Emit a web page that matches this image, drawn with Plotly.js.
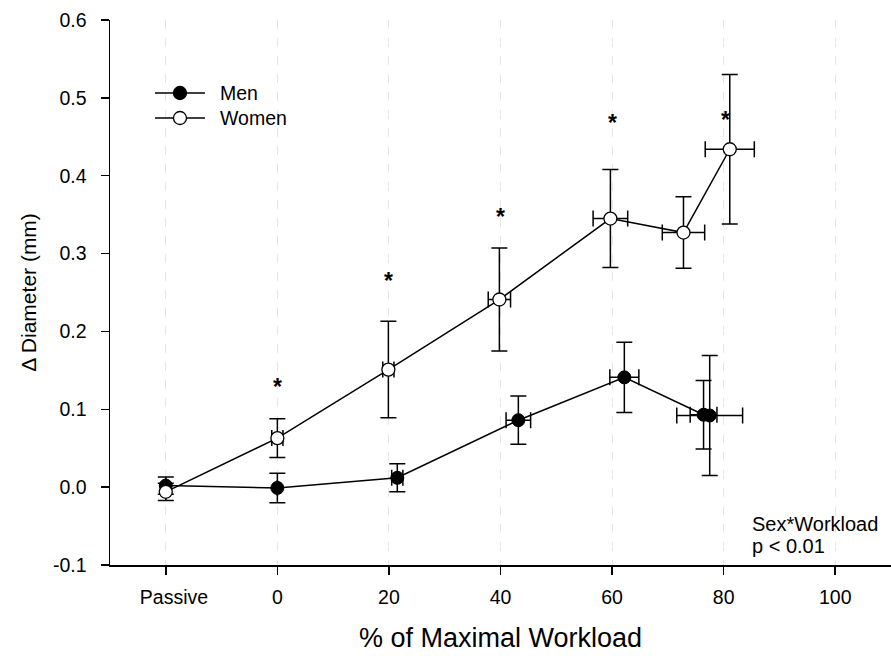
<!DOCTYPE html>
<html>
<head>
<meta charset="utf-8">
<script src="https://cdn.plot.ly/plotly-3.0.1.min.js"></script>
<style>
  html, body { margin: 0; padding: 0; background: #fff; }
  #chart { width: 891px; height: 656px; }
</style>
</head>
<body>
<div id="chart"></div>
<script>
// Workload categories on the x axis ("Passive" sits at -20)
const tickVals = [-20, 0, 20, 40, 60, 80, 100];
const tickText = ['\u00a0\u00a0\u00a0Passive', '0', '20', '40', '60', '80', '100'];

// Men: mean change in diameter (mm) with SE, plotted at achieved workload
const menX    = [-20, 0, 21.5, 43.2, 62.2, 76.4, 77.5];
const menXErr = [null, null, 1.0, 2.2, 2.6, 2.4, 5.9];
const menY    = [0.002, -0.001, 0.012, 0.086, 0.141, 0.093, 0.092];
const menYErr = [0.011, 0.019, 0.018, 0.031, 0.045, 0.044, 0.077];

// Women
const womenX    = [-20, 0, 19.9, 39.8, 59.7, 72.8, 81.1];
const womenXErr = [null, 1.0, 1.0, 2.0, 3.1, 3.8, 4.4];
const womenY    = [-0.006, 0.063, 0.151, 0.241, 0.345, 0.327, 0.434];
const womenYErr = [0.011, 0.025, 0.062, 0.066, 0.063, 0.046, 0.096];

// Significance markers between sexes
const starX = [0, 20, 40, 60, 80.3];
const starY = [0.137, 0.274, 0.356, 0.477, 0.480];

const yTickVals = [-0.1, 0, 0.1, 0.2, 0.3, 0.4, 0.5, 0.6];
const yTickText = ['-0.1', '0.0', '0.1', '0.2', '0.3', '0.4', '0.5', '0.6'];

const FONT = 'Arial, "Liberation Sans", sans-serif';

function errBar(arr) {
  return { type: 'data', array: arr, visible: true, color: '#000', thickness: 1.5, width: 8 };
}

const men = {
  x: menX, y: menY, name: 'Men', type: 'scatter', mode: 'lines+markers',
  line: { color: '#000', width: 1.5 },
  marker: { symbol: 'circle', size: 13, color: '#000', line: { color: '#000', width: 1 } },
  error_y: errBar(menYErr),
  error_x: errBar(menXErr),
  cliponaxis: false
};

const women = {
  x: womenX, y: womenY, name: 'Women', type: 'scatter', mode: 'lines+markers',
  line: { color: '#000', width: 1.5 },
  marker: { symbol: 'circle', size: 13, color: '#fff', line: { color: '#000', width: 1.3 } },
  error_y: errBar(womenYErr),
  error_x: errBar(womenXErr),
  cliponaxis: false
};

const annotations = starX.map((x, i) => ({
  x: x, y: starY[i], xref: 'x', yref: 'y', text: '<b>*</b>', showarrow: false,
  font: { family: FONT, size: 23, color: '#000' }, yshift: -7
}));

// Legend drawn by hand: short line with a circle, then the label
const legendRows = [
  { label: 'Men', fill: '#000', y: 0.8661 },
  { label: 'Women', fill: '#fff', y: 0.8202 }
];
const shapes = [];
legendRows.forEach(r => {
  shapes.push({ type: 'line', xref: 'paper', yref: 'paper', x0: 0.0576, x1: 0.1216, y0: r.y, y1: r.y,
    line: { color: '#000', width: 1.5 } });
  shapes.push({ type: 'circle', xref: 'paper', yref: 'paper', xsizemode: 'pixel', ysizemode: 'pixel',
    xanchor: 0.0896, yanchor: r.y, x0: -6.5, x1: 6.5, y0: -6.5, y1: 6.5,
    fillcolor: r.fill, line: { color: '#000', width: 1.3 } });
  annotations.push({ xref: 'paper', yref: 'paper', x: 0.1383, y: r.y, xanchor: 'left', yanchor: 'middle',
    text: r.label, showarrow: false, font: { family: FONT, size: 19.5, color: '#000' } });
});

annotations.push({ xref: 'paper', yref: 'paper', x: 0.82, y: 0.076, xanchor: 'left', yanchor: 'middle',
  text: 'Sex*Workload', showarrow: false, font: { family: FONT, size: 20, color: '#000' } });
annotations.push({ xref: 'paper', yref: 'paper', x: 0.82, y: 0.034, xanchor: 'left', yanchor: 'middle',
  text: 'p &lt; 0.01', showarrow: false, font: { family: FONT, size: 20, color: '#000' } });

const layout = {
  width: 891, height: 656,
  margin: { l: 110, r: 0, t: 20, b: 91 },
  paper_bgcolor: '#fff', plot_bgcolor: '#fff',
  showlegend: false,
  font: { family: FONT, size: 19.5, color: '#000' },
  xaxis: {
    range: [-30, 110], tickmode: 'array', tickvals: tickVals, ticktext: tickText,
    showline: true, linecolor: '#000', linewidth: 1.5, ticks: 'outside', ticklen: 8, tickwidth: 1.5, tickcolor: '#000',
    showgrid: true, gridcolor: '#e6e6e6', gridwidth: 1, griddash: 'dash', zeroline: false,
    ticklabelstandoff: 6,
    tickfont: { family: FONT, size: 19.5 },
    title: { text: '% of Maximal Workload', font: { family: FONT, size: 27 }, standoff: 21 }
  },
  yaxis: {
    range: [-0.1, 0.6], tickmode: 'array', tickvals: yTickVals, ticktext: yTickText,
    showline: true, linecolor: '#000', linewidth: 1.5, ticks: 'outside', ticklen: 8, tickwidth: 1.5, tickcolor: '#000',
    showgrid: false, zeroline: false, ticklabelstandoff: 10,
    tickfont: { family: FONT, size: 19.5 },
    title: { text: 'Δ Diameter (mm)', font: { family: FONT, size: 21 }, standoff: 10 }
  },
  shapes: shapes,
  annotations: annotations
};

Plotly.newPlot('chart', [men, women], layout, { displayModeBar: false, staticPlot: true });
</script>
</body>
</html>
